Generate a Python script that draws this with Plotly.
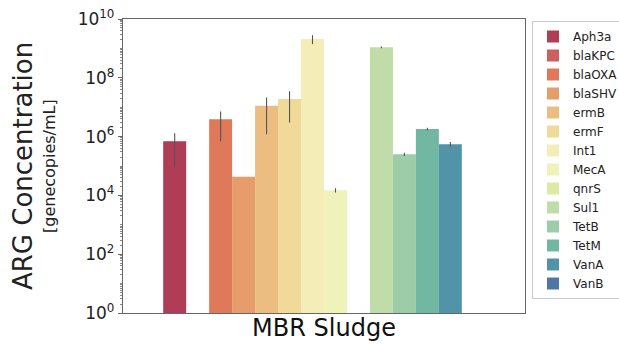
import colorsys
import numpy as np
import plotly.graph_objects as go

genes = ["Aph3a", "blaKPC", "blaOXA", "blaSHV", "ermB", "ermF", "Int1",
         "MecA", "qnrS", "Sul1", "TetB", "TetM", "VanA", "VanB"]
means = [6.9e5, None, 3.9e6, 4.3e4, 1.12e7, 1.9e7, 2.1e9,
         1.5e4, None, 1.09e9, 2.5e5, 1.8e6, 5.5e5, None]
sds = [6.0e5, None, 3.2e6, 0, 1.0e7, 1.6e7, 7.0e8,
       2.5e3, None, 8.0e7, 3.0e4, 2.0e5, 1.0e5, None]
category = ["MBR Sludge"]
ytick_vals = [1e0, 1e2, 1e4, 1e6, 1e8, 1e10]
ytick_text = ["10<sup>0</sup>", "10<sup>2</sup>", "10<sup>4</sup>",
              "10<sup>6</sup>", "10<sup>8</sup>", "10<sup>10</sup>"]

# Spectral colormap anchors (matplotlib), sampled like seaborn, desaturated 0.75
spectral = np.array([
    (0.6196, 0.0039, 0.2588), (0.8353, 0.2431, 0.3098), (0.9569, 0.4275, 0.2627),
    (0.9922, 0.6824, 0.3804), (0.9961, 0.8784, 0.5451), (1.0, 1.0, 0.7490),
    (0.9020, 0.9608, 0.5961), (0.6706, 0.8667, 0.6431), (0.4, 0.7608, 0.6471),
    (0.1961, 0.5333, 0.7412), (0.3686, 0.3098, 0.6353)])
n = len(genes)
pos = np.linspace(0, 1, n + 2)[1:-1]
anchors = np.linspace(0, 1, len(spectral))
colors = []
for p in pos:
    rgb = [np.interp(p, anchors, spectral[:, k]) for k in range(3)]
    h, l, s = colorsys.rgb_to_hls(*rgb)
    r, g, b = colorsys.hls_to_rgb(h, l, s * 0.75)
    colors.append("rgb(%d,%d,%d)" % (round(r * 255), round(g * 255), round(b * 255)))

minor_vals = [k * 10 ** e for e in range(0, 10) for k in range(2, 10)] + [10 ** e for e in range(1, 10, 2)]

fig = go.Figure()
for i, gname in enumerate(genes):
    fig.add_trace(go.Bar(
        x=category, y=[means[i]], name=gname,
        marker=dict(color=colors[i], line=dict(width=0)),
        error_y=dict(type="data", array=[sds[i]], visible=True, color="#555555",
                     thickness=1.1, width=0),
    ))

fig.update_layout(
    width=619, height=349,
    margin=dict(l=123, r=94, t=19, b=36, autoexpand=False),
    paper_bgcolor="white", plot_bgcolor="white",
    barmode="group", bargap=0.2, bargroupgap=0,
    font=dict(family="DejaVu Sans", color="#222"),
    showlegend=True,
    legend=dict(xref="container", yref="container", x=532 / 619, y=1 - 21 / 349,
                xanchor="left", yanchor="top", maxheight=330,
                bordercolor="#cccccc", borderwidth=1,
                font=dict(size=12, color="#222"), tracegroupgap=0),
    xaxis=dict(showline=True, linecolor="#666", linewidth=1.3, mirror=True,
               ticks="", tickfont=dict(size=24, color="#111"), showgrid=False,
               ticklabelstandoff=-7, automargin=False),
    yaxis=dict(type="log", range=[0, 10], showline=True, linecolor="#666",
               linewidth=1.3, mirror=True, ticks="outside", ticklen=4,
               tickcolor="#666", tickmode="array", tickvals=ytick_vals,
               ticktext=ytick_text, tickfont=dict(size=17, color="#222"),
               showgrid=False, automargin=False,
               minor=dict(ticks="outside", ticklen=2, tickcolor="#888",
                          tickmode="array", tickvals=minor_vals, showgrid=False)),
    annotations=[
        dict(text="ARG Concentration", xref="paper", yref="paper",
             x=-(123 - 23) / 402, y=0.5, textangle=-90, showarrow=False,
             xanchor="center", yanchor="middle", font=dict(size=26, color="#222")),
        dict(text="[genecopies/mL]", xref="paper", yref="paper",
             x=-(123 - 49) / 402, y=0.5, textangle=-90, showarrow=False,
             xanchor="center", yanchor="middle", font=dict(size=16, color="#222")),
    ],
)

fig.write_html("out.html")
